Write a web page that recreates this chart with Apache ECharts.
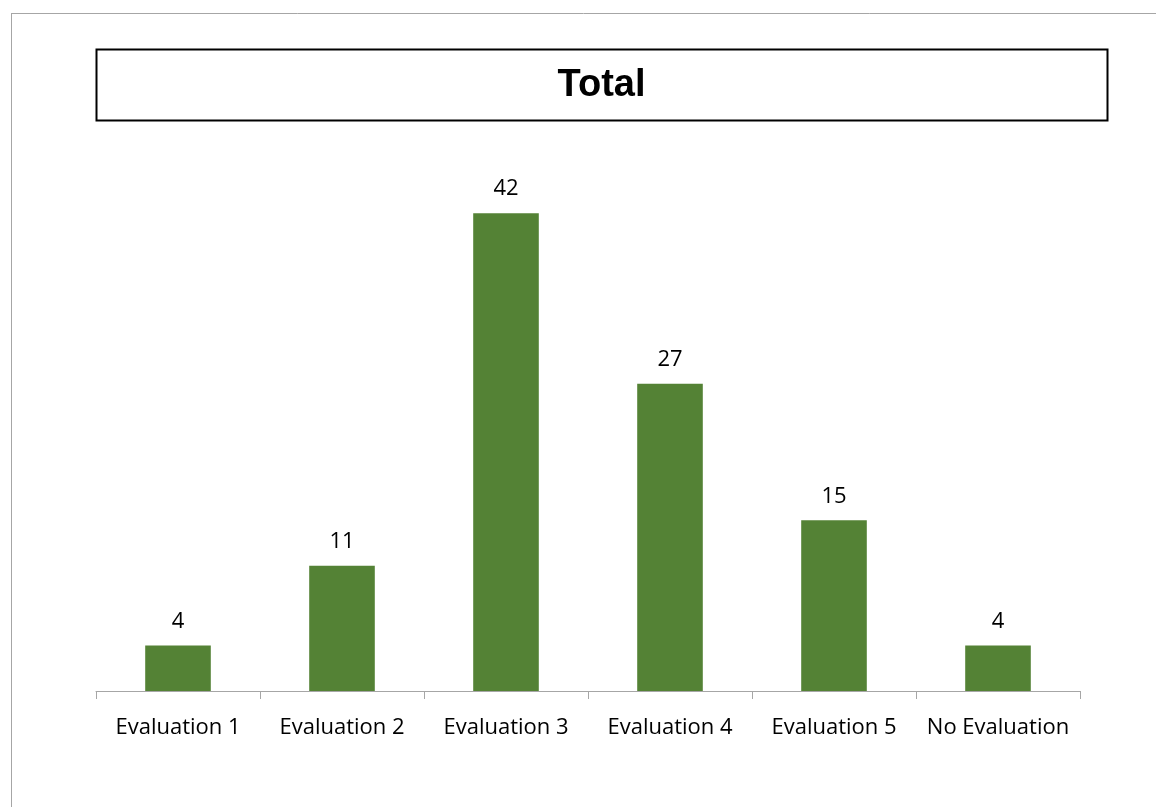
<!DOCTYPE html>
<html>
<head>
<meta charset="utf-8">
<script src="https://cdn.jsdelivr.net/npm/echarts@6/dist/echarts.min.js"></script>
<style>
html,body{margin:0;padding:0;background:#fff;}
#chart{width:1156px;height:807px;}
</style>
</head>
<body>
<div id="chart"></div>
<script>
const categories = ['Evaluation 1', 'Evaluation 2', 'Evaluation 3', 'Evaluation 4', 'Evaluation 5', 'No Evaluation'];
const totals = [4, 11, 42, 27, 15, 4];
const titleText = 'Total';

const chart = echarts.init(document.getElementById('chart'), null, {renderer: 'canvas'});
chart.setOption({
  animation: false,
  backgroundColor: '#ffffff',
  graphic: [
    {type: 'line', shape: {x1: 11, y1: 13.5, x2: 1156, y2: 13.5}, style: {stroke: '#a6a6a6', lineWidth: 1}, silent: true},
    {type: 'line', shape: {x1: 11.5, y1: 13, x2: 11.5, y2: 807}, style: {stroke: '#a6a6a6', lineWidth: 1}, silent: true},
    {type: 'rect', shape: {x: 96.5, y: 49.5, width: 1011, height: 71}, style: {fill: '#ffffff', stroke: '#000000', lineWidth: 2}, silent: true, z: 0},
    {type: 'text', x: 601.5, y: 86, style: {text: titleText, font: 'bold 38px "Liberation Sans", Arial, sans-serif', fill: '#000', align: 'center', verticalAlign: 'middle'}, z: 10}
  ],
  grid: {left: 96, right: 76, top: 179, bottom: 116, containLabel: false},
  xAxis: {
    type: 'category',
    data: categories,
    axisLine: {lineStyle: {color: '#a6a6a6', width: 1}},
    axisTick: {show: true, length: 8, interval: 0, lineStyle: {color: '#a6a6a6'}},
    axisLabel: {interval: 0, hideOverlap: false, color: '#000', fontSize: 22, fontFamily: '"Open Sans", "Noto Sans", sans-serif', margin: 26}
  },
  yAxis: {
    type: 'value', min: 0, max: 45, show: false,
    splitLine: {show: false}
  },
  series: [{
    type: 'bar',
    data: totals,
    barWidth: '40%',
    itemStyle: {color: '#548235'},
    label: {show: true, position: 'top', distance: 13, color: '#000', fontSize: 22, fontFamily: '"Open Sans", "Noto Sans", sans-serif'}
  }]
});
</script>
</body>
</html>
